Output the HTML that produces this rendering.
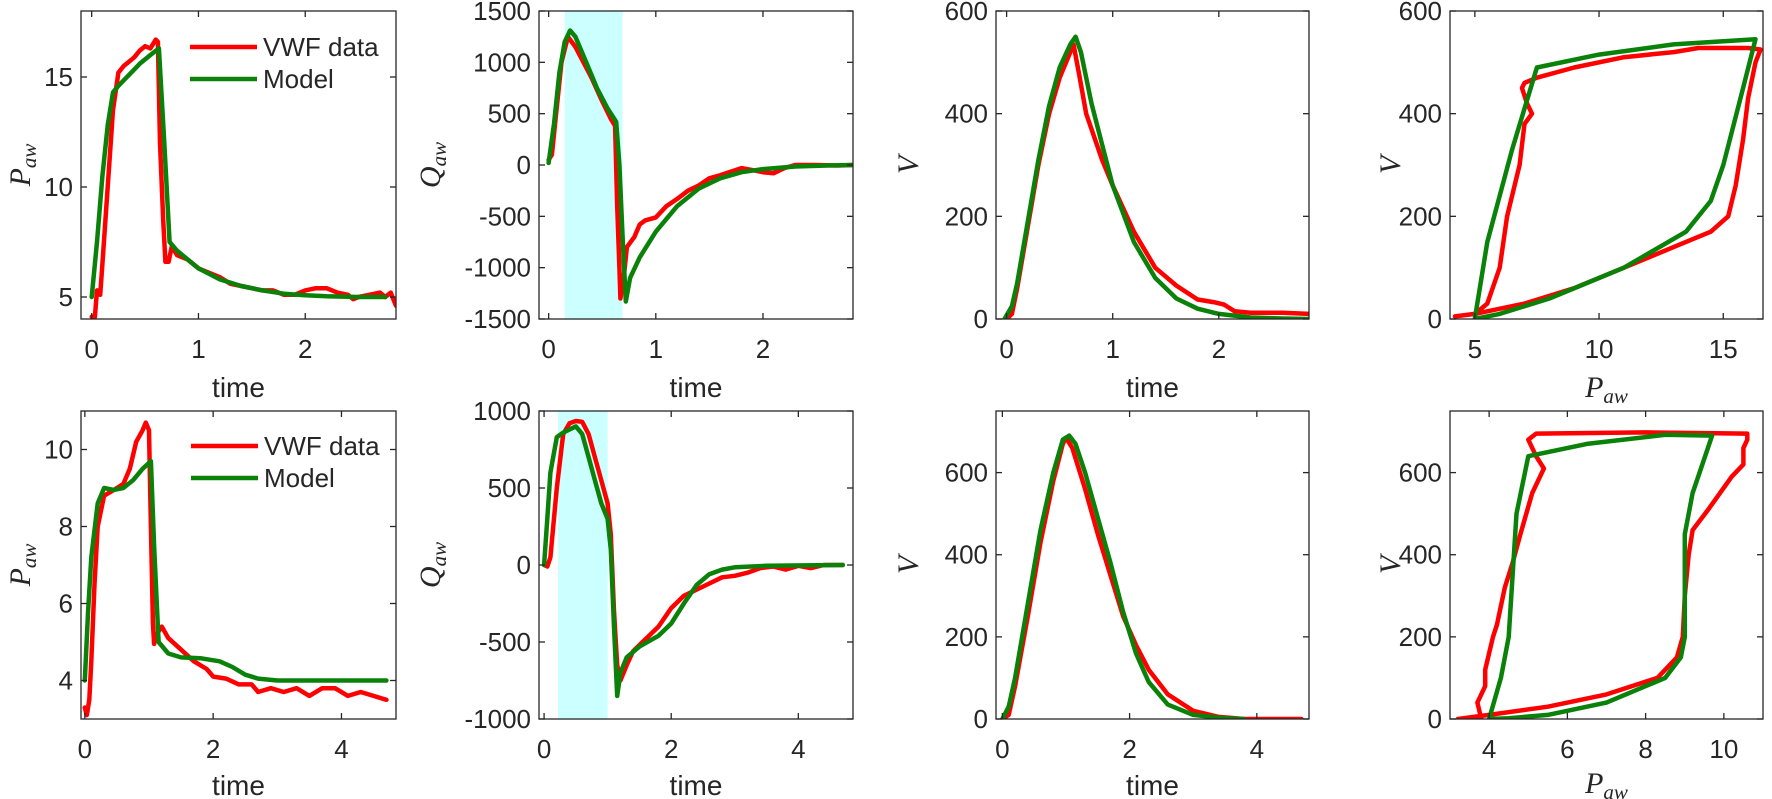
<!DOCTYPE html>
<html><head><meta charset="utf-8"><style>
html,body{margin:0;padding:0;background:#fff}
svg{display:block}
text{font-family:"Liberation Sans",sans-serif;fill:#262626}
.ser{font-family:"Liberation Serif",serif;font-style:italic}
</style></head><body>
<svg id="fig" width="1772" height="799" viewBox="0 0 1772 799" xmlns="http://www.w3.org/2000/svg"></svg>
<script>
// ---- data (top row) ----
const t1RedT=[0,0.03,0.05,0.08,0.1,0.15,0.2,0.25,0.3,0.35,0.4,0.45,0.5,0.55,0.6,0.62,0.64,0.67,0.69,0.72,0.75,0.8,0.9,1.0,1.1,1.2,1.3,1.4,1.5,1.6,1.7,1.8,1.9,2.0,2.1,2.2,2.3,2.4,2.45,2.5,2.6,2.7,2.75,2.8,2.85];
const t1RedP=[4.1,4.1,5.3,5.1,6.5,10,13.5,15.2,15.5,15.7,15.9,16.2,16.4,16.3,16.7,16.6,12,8.5,6.6,6.6,7.3,6.9,6.7,6.3,6.1,5.9,5.6,5.5,5.4,5.3,5.3,5.1,5.1,5.3,5.4,5.4,5.2,5.1,4.9,5.0,5.1,5.2,5.0,5.2,4.6];
const t1GrnT=[0,0.05,0.1,0.15,0.2,0.25,0.35,0.45,0.55,0.63,0.68,0.73,0.8,0.9,1.0,1.2,1.4,1.6,1.8,2.0,2.2,2.5,2.75];
const t1GrnP=[5,7.5,10.5,12.8,14.3,14.6,15.1,15.6,16.0,16.3,12,7.5,7.1,6.7,6.3,5.8,5.5,5.3,5.15,5.08,5.03,5.0,5.0];
const t2RedT=[0,0.03,0.07,0.12,0.18,0.25,0.3,0.4,0.5,0.58,0.62,0.64,0.66,0.67,0.7,0.73,0.8,0.85,0.9,1.0,1.1,1.2,1.3,1.4,1.5,1.6,1.8,1.9,2.0,2.1,2.2,2.3,2.5,2.7,2.85];
const t2RedQ=[50,100,500,1000,1250,1150,1050,850,620,450,380,-400,-1000,-1300,-1100,-800,-700,-580,-540,-510,-400,-330,-250,-200,-130,-100,-30,-50,-70,-80,-30,0,0,-5,0];
const t2GrnT=[0,0.05,0.1,0.15,0.2,0.25,0.35,0.45,0.55,0.63,0.66,0.69,0.72,0.76,0.85,1.0,1.2,1.4,1.6,1.8,2.0,2.3,2.6,2.85];
const t2GrnQ=[20,400,900,1200,1310,1250,1000,750,550,420,0,-700,-1330,-1100,-900,-650,-400,-230,-130,-70,-40,-15,-5,0];
const t3RedT=[0,0.05,0.1,0.2,0.3,0.4,0.5,0.6,0.63,0.68,0.75,0.9,1.0,1.2,1.4,1.6,1.8,1.95,2.05,2.15,2.3,2.6,2.85];
const t3RedV=[0,10,60,180,300,400,470,520,535,480,400,310,260,170,100,65,38,33,28,15,12,12,10];
const t3GrnT=[-0.02,0.05,0.1,0.2,0.3,0.4,0.5,0.6,0.65,0.7,0.8,0.9,1.0,1.2,1.4,1.6,1.8,2.0,2.3,2.6,2.85];
const t3GrnV=[0,25,70,190,310,415,490,535,550,520,420,340,260,150,80,40,20,10,3,1,0];
const t4RedP=[4.2,5,5.5,6,6.3,6.8,7.0,7.3,7.1,6.9,7.0,7.5,9,11,13,14,16,16.5,16.3,16,15.8,15.5,15.2,14.5,13,11,9,7,5,4.2];
const t4RedV=[5,10,30,100,200,300,380,400,420,450,460,470,490,510,520,528,528,525,500,430,350,260,200,170,140,100,60,30,10,5];
const t4GrnP=[5,5.5,6.5,7.5,10,13,16.3,15.8,15,14.5,13.5,11,8,6,5];
const t4GrnV=[0,150,330,490,515,535,545,450,300,230,170,100,40,10,0];
// ---- data (bottom row) ----
const b1RedT=[0,0.03,0.07,0.1,0.15,0.2,0.3,0.4,0.5,0.6,0.7,0.8,0.9,0.95,1.0,1.03,1.06,1.08,1.12,1.2,1.3,1.5,1.7,1.9,2.0,2.2,2.4,2.6,2.7,2.9,3.1,3.3,3.5,3.7,3.9,4.1,4.3,4.5,4.7];
const b1RedP=[3.3,3.1,3.5,4.5,6.5,8.0,8.8,8.9,9.0,9.1,9.5,10.2,10.5,10.7,10.5,8,5.5,4.95,5.2,5.4,5.1,4.8,4.5,4.3,4.1,4.05,3.9,3.9,3.7,3.8,3.7,3.8,3.6,3.8,3.8,3.6,3.7,3.6,3.5];
const b1GrnT=[0,0.05,0.1,0.2,0.3,0.45,0.6,0.75,0.9,1.03,1.08,1.15,1.3,1.5,1.8,2.1,2.3,2.5,2.7,3.0,4.7];
const b1GrnP=[4,5.8,7.2,8.6,9.0,8.95,9.0,9.2,9.5,9.7,7.5,5.0,4.7,4.6,4.58,4.5,4.35,4.15,4.05,4.0,4.0];
const b2RedT=[0,0.05,0.1,0.2,0.3,0.4,0.5,0.6,0.7,0.8,0.9,1.0,1.05,1.1,1.15,1.2,1.3,1.4,1.6,1.8,2.0,2.2,2.4,2.6,2.8,3.0,3.2,3.4,3.6,3.8,4.0,4.2,4.4,4.7];
const b2RedQ=[0,-10,50,500,850,920,935,930,850,700,550,400,200,-300,-650,-750,-650,-560,-480,-400,-280,-200,-160,-120,-80,-70,-50,-20,-10,-30,-5,-20,0,0];
const b2GrnT=[0,0.05,0.1,0.2,0.3,0.4,0.5,0.6,0.7,0.8,0.9,1.0,1.05,1.1,1.15,1.2,1.3,1.5,1.8,2.0,2.2,2.4,2.6,2.8,3.0,3.5,4.7];
const b2GrnQ=[0,300,600,830,860,880,900,850,700,550,400,300,100,-400,-850,-700,-600,-530,-460,-380,-250,-130,-60,-30,-15,-5,0];
const b3RedT=[0,0.1,0.2,0.4,0.6,0.8,0.95,1.0,1.1,1.3,1.5,1.7,1.9,2.1,2.3,2.6,3.0,3.4,3.8,4.7];
const b3RedV=[0,10,80,250,430,580,670,685,660,560,450,350,250,180,120,60,20,5,0,0];
const b3GrnT=[0,0.1,0.2,0.4,0.6,0.8,0.95,1.05,1.15,1.3,1.5,1.7,1.9,2.1,2.3,2.6,3.0,3.5,3.8];
const b3GrnV=[0,30,100,280,460,600,680,690,670,600,490,380,260,160,90,35,10,2,0];
const b4RedP=[3.2,3.8,3.7,3.9,3.9,4.1,4.2,4.4,4.6,4.8,5.1,5.3,5.4,5.2,5.0,5.2,8,10.6,10.6,10.5,10.5,10.2,9.6,9.2,9.1,9.0,8.95,8.8,8.3,7,5.5,4,3.2];
const b4RedV=[0,0,40,80,120,200,230,320,380,450,550,590,610,640,680,695,698,695,680,660,620,590,510,460,400,300,200,150,100,60,30,10,0];
const b4GrnP=[4,4.3,4.5,4.6,4.7,5.0,6.5,8.5,9.7,9.2,9.0,9.0,9.0,8.9,8.5,7,5.5,4.5,4];
const b4GrnV=[0,100,200,350,500,640,670,692,690,550,450,300,200,150,100,40,10,2,0];
// tick labels
const xtTop=[0,1,2], xtBot=[0,2,4];
const ytP1=[5,10,15], ytQ1=[-1500,-1000,-500,0,500,1000,1500], ytV=[0,200,400,600];
const ytP2=[4,6,8,10], ytQ2=[-1000,-500,0,500,1000];
const xtPV1=[5,10,15], xtPV2=[4,6,8,10];

const NS='http://www.w3.org/2000/svg';
const svg=document.getElementById('fig');
const RED='#ff0000', GRN='#0a820a';
function mk(tag,attrs,parent){const e=document.createElementNS(NS,tag);for(const k in attrs)e.setAttribute(k,attrs[k]);(parent||svg).appendChild(e);return e;}

function panel(name,box,xl,yl,xt,yt,opts){
  const g=mk('g',{});
  
  
  const [L,T,R,B]=box;
  const sx=v=>L+(v-xl[0])/(xl[1]-xl[0])*(R-L);
  const sy=v=>B-(v-yl[0])/(yl[1]-yl[0])*(B-T);
  if(opts.shade){const r=mk('rect',{x:sx(opts.shade[0]),y:T,width:sx(opts.shade[1])-sx(opts.shade[0]),height:B-T,fill:'#ccffff'},g);
    
    }
  const cp='cp'+name;
  const cl=mk('clipPath',{id:cp},g);mk('rect',{x:L,y:T,width:R-L,height:B-T},cl);
  opts.series.forEach(s=>{
    const d=s.x.map((v,i)=>(i?'L':'M')+sx(v).toFixed(1)+','+sy(s.y[i]).toFixed(1)).join('');
    const p=mk('path',{d:d,fill:'none',stroke:s.c,'stroke-width':4.5,'stroke-linejoin':'round','stroke-linecap':'round','clip-path':'url(#'+cp+')'},g);
    
    
  });
  const ax=mk('rect',{x:L,y:T,width:R-L,height:B-T,fill:'none',stroke:'#262626','stroke-width':1.3},g);
  
  
  xt.forEach(v=>{const x=sx(v);mk('line',{x1:x,x2:x,y1:B,y2:B-6,stroke:'#262626','stroke-width':1.3},g);mk('line',{x1:x,x2:x,y1:T,y2:T+6,stroke:'#262626','stroke-width':1.3},g);
    const t=mk('text',{x:x,y:B+39,'font-size':26,'text-anchor':'middle'},g);t.textContent=v;
    
    });
  yt.forEach(v=>{const y=sy(v);mk('line',{x1:L,x2:L+6,y1:y,y2:y,stroke:'#262626','stroke-width':1.3},g);mk('line',{x1:R,x2:R-6,y1:y,y2:y,stroke:'#262626','stroke-width':1.3},g);
    const t=mk('text',{x:L-8,y:y+9,'font-size':26,'text-anchor':'end'},g);t.textContent=v;
    
    });
  // x label
  const xlab=mk('text',{x:(L+R)/2,y:B+opts.xly,'font-size':28,'text-anchor':'middle'},g);
  
  
  if(opts.xlab==='time'){xlab.textContent='time';}
  else{xlab.setAttribute('class','ser');xlab.setAttribute('font-size',30);xlab.textContent='P';const s=mk('tspan',{'font-size':21,dy:6},xlab);s.textContent='aw';}
  // y label
  const yx=opts.ylx, yc=(T+B)/2;
  const ylab=mk('text',{x:yx,y:yc,'font-size':30,'text-anchor':'middle',class:'ser',transform:'rotate(-90 '+yx+' '+yc+')'},g);
  
  
  ylab.textContent=opts.ylab;
  if(opts.ylab!=='V'){const s=mk('tspan',{'font-size':21,dy:6},ylab);s.textContent='aw';}
  if(opts.legend){
    const lg=mk('g',{},g);
    
    
    const [lx,ly]=opts.legend;
    [['VWF data',RED,0],['Model',GRN,32]].forEach(([lab,c,dy])=>{
      const e=mk('g',{},lg);
      
      
      mk('line',{x1:lx,x2:lx+67,y1:ly+dy,y2:ly+dy,stroke:c,'stroke-width':4.5},e);
      const t=mk('text',{x:lx+73,y:ly+dy+9,'font-size':26},e);t.textContent=lab;
    });
  }
}
const TOP=[11,319], BOT=[411,719];
const X=[[81,396],[539,853],[996,1309],[1450,1763]];
function bx(i,row){return [X[i][0],row[0],X[i][1],row[1]];}
panel('top-pressure-panel',bx(0,TOP),[-0.1,2.85],[4,18],xtTop,ytP1,{xlab:'time',xly:78,ylab:'P',ylx:30,legend:[190,47],
 series:[{x:t1RedT,y:t1RedP,c:RED,n:'vwf-data-line'},{x:t1GrnT,y:t1GrnP,c:GRN,n:'model-line'}]});
panel('top-flow-panel',bx(1,TOP),[-0.09,2.84],[-1500,1500],xtTop,ytQ1,{xlab:'time',xly:78,ylab:'Q',ylx:440,shade:[0.15,0.69],
 series:[{x:t2RedT,y:t2RedQ,c:RED,n:'vwf-data-line'},{x:t2GrnT,y:t2GrnQ,c:GRN,n:'model-line'}]});
panel('top-volume-panel',bx(2,TOP),[-0.1,2.85],[0,600],xtTop,ytV,{xlab:'time',xly:78,ylab:'V',ylx:918,
 series:[{x:t3RedT,y:t3RedV,c:RED,n:'vwf-data-line'},{x:t3GrnT,y:t3GrnV,c:GRN,n:'model-line'}]});
panel('top-pv-loop-panel',bx(3,TOP),[4,16.6],[0,600],xtPV1,ytV,{xlab:'P',xly:78,ylab:'V',ylx:1400,
 series:[{x:t4RedP,y:t4RedV,c:RED,n:'vwf-data-loop'},{x:t4GrnP,y:t4GrnV,c:GRN,n:'model-loop'}]});
panel('bottom-pressure-panel',bx(0,BOT),[-0.06,4.85],[3,11],xtBot,ytP2,{xlab:'time',xly:76,ylab:'P',ylx:30,legend:[191,446],
 series:[{x:b1RedT,y:b1RedP,c:RED,n:'vwf-data-line'},{x:b1GrnT,y:b1GrnP,c:GRN,n:'model-line'}]});
panel('bottom-flow-panel',bx(1,BOT),[-0.08,4.86],[-1000,1000],xtBot,ytQ2,{xlab:'time',xly:76,ylab:'Q',ylx:440,shade:[0.22,1.0],
 series:[{x:b2RedT,y:b2RedQ,c:RED,n:'vwf-data-line'},{x:b2GrnT,y:b2GrnQ,c:GRN,n:'model-line'}]});
panel('bottom-volume-panel',bx(2,BOT),[-0.1,4.82],[0,750],xtBot,ytV,{xlab:'time',xly:76,ylab:'V',ylx:918,
 series:[{x:b3RedT,y:b3RedV,c:RED,n:'vwf-data-line'},{x:b3GrnT,y:b3GrnV,c:GRN,n:'model-line'}]});
panel('bottom-pv-loop-panel',bx(3,BOT),[3,11],[0,750],xtPV2,ytV,{xlab:'P',xly:74,ylab:'V',ylx:1400,
 series:[{x:b4RedP,y:b4RedV,c:RED,n:'vwf-data-loop'},{x:b4GrnP,y:b4GrnV,c:GRN,n:'model-loop'}]});
</script>
</body></html>
